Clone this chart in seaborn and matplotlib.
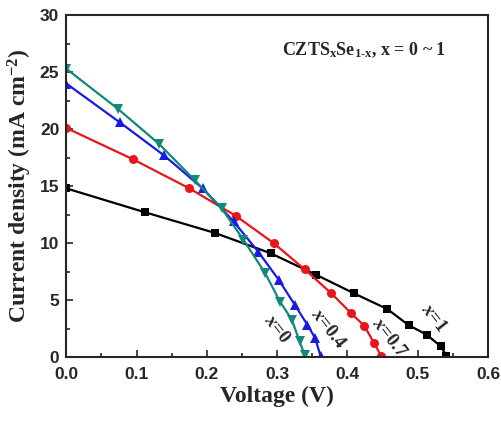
import numpy as np
import pandas as pd
import seaborn as sns
import matplotlib
matplotlib.use("Agg")
import matplotlib.pyplot as plt
from matplotlib.colors import to_hex
from matplotlib.ticker import MultipleLocator, FormatStrFormatter

# J-V curves
v_x1 = [0.0, 0.112, 0.211, 0.291, 0.356, 0.409, 0.457, 0.487, 0.513, 0.533, 0.541]
j_x1 = [14.8, 12.7, 10.9, 9.1, 7.2, 5.6, 4.2, 2.8, 1.95, 0.93, 0.1]

v_x07 = [0.0, 0.095, 0.175, 0.241, 0.295, 0.339, 0.377, 0.405, 0.424, 0.438, 0.448]
j_x07 = [20.1, 17.35, 14.8, 12.4, 10.0, 7.7, 5.6, 3.86, 2.74, 1.23, 0.1]

v_x04 = [0.0, 0.076, 0.139, 0.194, 0.238, 0.273, 0.302, 0.325, 0.343, 0.354, 0.362]
j_x04 = [24.0, 20.6, 17.7, 14.8, 11.9, 9.25, 6.8, 4.6, 2.83, 1.67, 0.05]

v_x0 = [0.0, 0.073, 0.132, 0.183, 0.221, 0.252, 0.283, 0.304, 0.321, 0.332, 0.339]
j_x0 = [25.3, 21.8, 18.7, 15.5, 13.06, 10.3, 7.36, 4.87, 3.27, 1.37, 0.2]

series_names = ["x=1", "x=0.7", "x=0.4", "x=0"]
colors = {"x=1": "#000000", "x=0.7": "#e8161b", "x=0.4": "#1a1ae0", "x=0": "#12877e"}
markers = {"x=1": "s", "x=0.7": "o", "x=0.4": "^", "x=0": "v"}
marker_sizes = {"#000000": 5.5, "#e8161b": 6.5, "#1a1ae0": 7, "#12877e": 7}

frames = []
for name, v, j in zip(series_names, [v_x1, v_x07, v_x04, v_x0], [j_x1, j_x07, j_x04, j_x0]):
    frames.append(pd.DataFrame({"V": v, "J": j, "x": name}))
df = pd.concat(frames, ignore_index=True)

sns.set_style("ticks")
plt.rcParams["font.family"] = ["Liberation Sans", "DejaVu Sans"]
plt.rcParams["mathtext.fontset"] = "custom"
plt.rcParams["mathtext.rm"] = "Liberation Serif:bold"
plt.rcParams["mathtext.bf"] = "Liberation Serif:bold"
plt.rcParams["mathtext.it"] = "Liberation Serif:italic:bold"

fig = plt.figure(figsize=(5.02, 4.21), dpi=100)
ax = fig.add_axes([0.132, 0.152, 0.840, 0.812])

sns.lineplot(data=df, x="V", y="J", hue="x", style="x", palette=colors,
             markers=markers, dashes=False, sort=False, linewidth=1.6,
             markersize=6.5, markeredgewidth=0, legend=False, ax=ax)

# squares look big next to the triangles, so size each series by its colour
for ln in ax.lines:
    c = to_hex(ln.get_color())
    if c in marker_sizes:
        ln.set_markersize(marker_sizes[c])

ax.set_xlim(0, 0.6)
ax.set_ylim(0, 30)
ax.xaxis.set_major_locator(MultipleLocator(0.1))
ax.xaxis.set_minor_locator(MultipleLocator(0.05))
ax.yaxis.set_major_locator(MultipleLocator(5))
ax.yaxis.set_minor_locator(MultipleLocator(2.5))
ax.tick_params(which="both", direction="in", width=1.2)
ax.tick_params(which="major", length=5, labelsize=12.5)
ax.tick_params(which="minor", length=3)
ax.tick_params(axis="x", pad=7)
ax.tick_params(axis="y", pad=5)
ax.xaxis.set_major_formatter(FormatStrFormatter("%.1f"))
for lab in ax.get_xticklabels() + ax.get_yticklabels():
    lab.set_fontweight("bold")
for s in ax.spines.values():
    s.set_linewidth(1.5)

serif = ["Liberation Serif", "DejaVu Serif"]
ax.set_xlabel("Voltage (V)", fontsize=17, fontweight="bold", family=serif, labelpad=3)
ax.set_ylabel("Current density (mA cm$^{-2}$)", fontsize=17, fontweight="bold",
              family=serif, labelpad=4)

ax.text(0.307, 26.9, "CZTS$_{\\mathrm{x}}$Se$_{\\mathrm{1\\text{-}x}}$, x = 0 ~ 1", fontsize=13,
        fontweight="bold", family=serif, va="center", ha="left")

label_pos = {"x=0": (0.299, 2.4), "x=0.4": (0.373, 2.5), "x=0.7": (0.460, 1.7), "x=1": (0.522, 3.4)}
for name, (lx, ly) in label_pos.items():
    txt = "$\\mathit{x}$" + name[1:]
    ax.text(lx, ly, txt, rotation=-52, fontsize=13.5, fontweight="bold", family=serif,
            ha="center", va="center", rotation_mode="anchor")

fig.savefig("out.png", dpi=100)
